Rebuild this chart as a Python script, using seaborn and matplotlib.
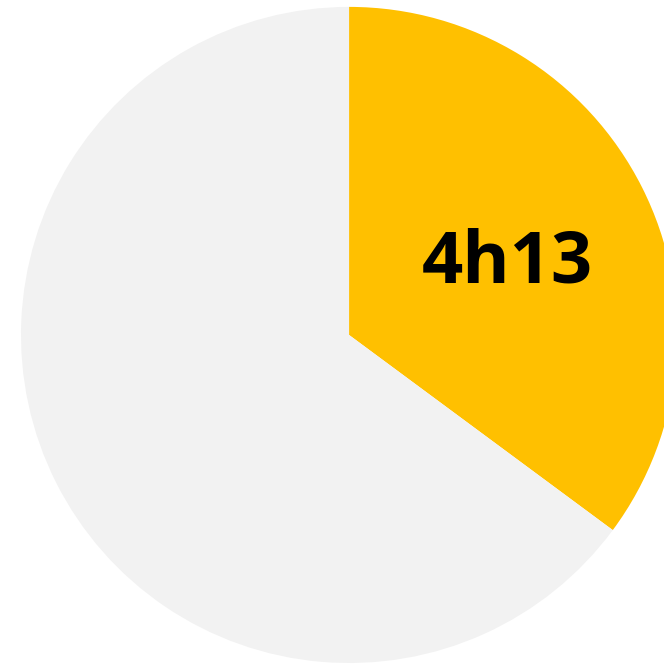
import matplotlib
matplotlib.use("Agg")
import matplotlib.pyplot as plt
import seaborn as sns

# Data: time used out of a 12 hour dial (minutes)
labels = ["4h13", ""]
minutes = [253, 720 - 253]
colors = ["#FFC000", "#F2F2F2"]

sns.set_theme(style="white")
plt.rcParams['font.family'] = ['Open Sans', 'DejaVu Sans']

fig = plt.figure(figsize=(6.64, 6.64), dpi=100)
ax = fig.add_axes([0, 0, 1, 1])

wedges, texts = ax.pie(minutes, colors=colors, startangle=90, counterclock=False,
                       labels=labels, labeldistance=0.54,
                       wedgeprops=dict(linewidth=0))
for t in texts:
    t.set_ha("center")
    t.set_va("center_baseline")
    t.set_fontsize(52)
    t.set_fontweight("bold")
    t.set_color("black")

# pie sits off-centre and runs past the right edge
ax.set_xlim(-1.064, 0.960)
ax.set_ylim(-1.003, 1.021)
ax.set_aspect("auto")
ax.axis("off")

fig.savefig("out.png", dpi=100, facecolor="white")
